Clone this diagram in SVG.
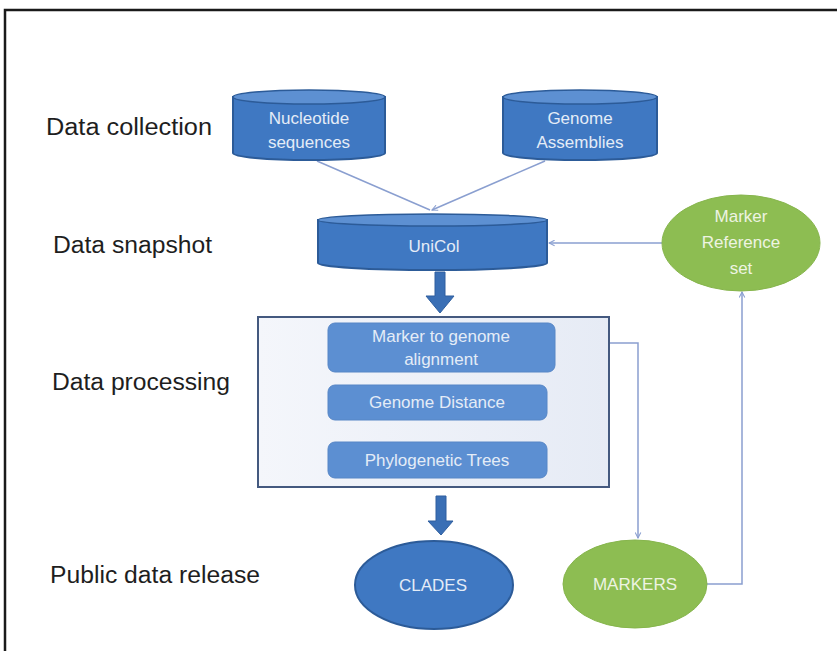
<svg xmlns="http://www.w3.org/2000/svg" width="837" height="651" viewBox="0 0 837 651">
<defs>
<marker id="ah" viewBox="0 0 10 10" refX="9" refY="5" markerWidth="7" markerHeight="7" orient="auto-start-reverse" markerUnits="userSpaceOnUse">
<path d="M1,1 L9,5 L1,9" fill="none" stroke="#8a9fd0" stroke-width="1.5"/>
</marker>
<linearGradient id="boxg" x1="0" y1="0" x2="1" y2="0">
<stop offset="0" stop-color="#f4f6fb"/>
<stop offset="1" stop-color="#e6ebf5"/>
</linearGradient>
</defs>
<style>
.lab{font-family:"Liberation Sans",Arial,sans-serif;font-size:23px;fill:#1e1e1e}
.nt{font-family:"Liberation Sans",Arial,sans-serif;font-size:17px;fill:#e4ecf7;text-anchor:middle}
.gt{font-family:"Liberation Sans",Arial,sans-serif;font-size:17px;fill:#eef4e2;text-anchor:middle}
.cylb{fill:#3f78c2;stroke:#2c5b98;stroke-width:2}
.cylt{fill:#5d90d2;stroke:#2c5b98;stroke-width:1.5}
.rr{fill:#5c8fd2;stroke:#5686c6;stroke-width:1}
.grn{fill:#8dbd52;stroke:#86b54c;stroke-width:1}
.conn{fill:none;stroke:#8a9fd0;stroke-width:1.5}
.fat{fill:#3a6fb5;stroke:#2f5f9f;stroke-width:1}
</style>
<rect x="0" y="0" width="837" height="651" fill="#ffffff"/>
<path d="M5,651 L5,10 L837,10" fill="none" stroke="#1a1a1a" stroke-width="2.5"/>

<g id="labels">
<text class="lab" x="46" y="135" textLength="166" lengthAdjust="spacingAndGlyphs">Data collection</text>
<text class="lab" x="53" y="253" textLength="159" lengthAdjust="spacingAndGlyphs">Data snapshot</text>
<text class="lab" x="52" y="390" textLength="178" lengthAdjust="spacingAndGlyphs">Data processing</text>
<text class="lab" x="50" y="583" textLength="210" lengthAdjust="spacingAndGlyphs">Public data release</text>
</g>

<g id="connectors">
<line class="conn" x1="317" y1="161" x2="430" y2="210" stroke="#b3c0dd"/>
<line class="conn" x1="545" y1="161" x2="432" y2="210" stroke="#b3c0dd" marker-end="url(#ah)"/>
<line class="conn" x1="662" y1="243" x2="549" y2="243" marker-end="url(#ah)"/>
<path class="conn" d="M555,343 L638,343 L638,538" marker-end="url(#ah)"/>
<path class="conn" d="M707,584 L742,584 L742,292" marker-end="url(#ah)"/>
<path class="fat" d="M435,272 L445,272 L445,296 L454,296 L440,313 L426,296 L435,296 Z"/>
<path class="fat" d="M436,496 L446,496 L446,521 L453,521 L441,535 L428,521 L436,521 Z"/>
</g>

<g id="nucleotide">
<path class="cylb" d="M233,97 L233,153 A76,7 0 0 0 385,153 L385,97 Z"/>
<ellipse class="cylt" cx="309" cy="97" rx="76" ry="7"/>
<text class="nt" x="309" y="124">Nucleotide</text>
<text class="nt" x="309" y="148">sequences</text>
</g>

<g id="genome">
<path class="cylb" d="M503,97 L503,153 A77,7 0 0 0 657,153 L657,97 Z"/>
<ellipse class="cylt" cx="580" cy="97" rx="77" ry="7"/>
<text class="nt" x="580" y="124">Genome</text>
<text class="nt" x="580" y="148">Assemblies</text>
</g>

<g id="unicol">
<path class="cylb" d="M318,220 L318,263 A114,7 0 0 0 547,263 L547,220 Z"/>
<ellipse class="cylt" cx="432.5" cy="220" rx="114.5" ry="6"/>
<text class="nt" x="434" y="252">UniCol</text>
</g>

<g id="markerref">
<ellipse class="grn" cx="741" cy="243" rx="79" ry="48"/>
<text class="gt" x="741" y="222">Marker</text>
<text class="gt" x="741" y="248">Reference</text>
<text class="gt" x="741" y="274">set</text>
</g>

<g id="processing">
<rect x="258" y="317" width="351" height="170" fill="url(#boxg)" stroke="#44597f" stroke-width="2"/>
</g>

<g id="alignment">
<rect class="rr" x="328" y="323" width="227" height="49" rx="7"/>
<text class="nt" x="441" y="342">Marker to genome</text>
<text class="nt" x="441" y="365">alignment</text>
</g>

<g id="distance">
<rect class="rr" x="328" y="385" width="219" height="35" rx="7"/>
<text class="nt" x="437" y="408">Genome  Distance</text>
</g>

<g id="trees">
<rect class="rr" x="328" y="442" width="219" height="36" rx="7"/>
<text class="nt" x="437" y="466">Phylogenetic Trees</text>
</g>

<g id="clades">
<ellipse cx="434" cy="585" rx="79" ry="44" fill="#3f78c2" stroke="#2c5b98" stroke-width="2"/>
<text class="nt" x="433" y="591">CLADES</text>
</g>

<g id="markers">
<ellipse class="grn" cx="635" cy="584" rx="72" ry="44"/>
<text class="gt" x="635" y="590">MARKERS</text>
</g>
</svg>
